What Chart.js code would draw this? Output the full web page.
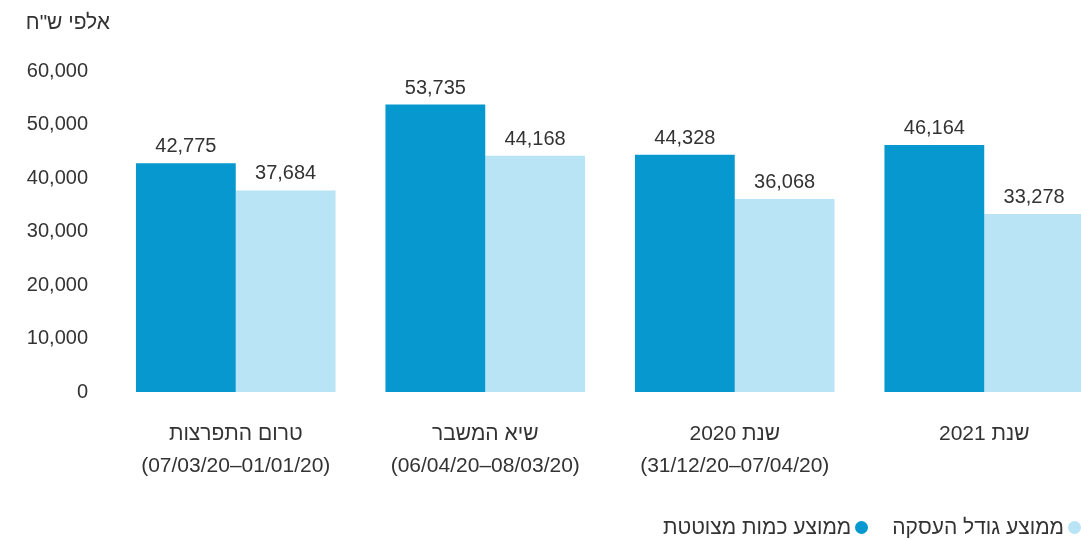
<!DOCTYPE html>
<html lang="he">
<head>
<meta charset="utf-8">
<title>ממוצע כמות מצוטטת וגודל עסקה</title>
<script src="https://cdn.jsdelivr.net/npm/chart.js@4.4.1/dist/chart.umd.min.js"></script>
<style>
  html, body { margin: 0; padding: 0; background: #fff; overflow: hidden; }
  #wrap { position: relative; width: 1081px; height: 540px; overflow: hidden; }
  #chart { position: absolute; left: 0; top: 0; }
  #legend {
    position: absolute; right: 0; top: 515px;
    display: flex; flex-direction: row; gap: 24px;
    font-family: "Liberation Sans", sans-serif; font-size: 21px; color: #333;
  }
  #legend .item { display: flex; align-items: center; gap: 4px; white-space: nowrap; }
  #legend .dot { width: 13px; height: 13px; border-radius: 50%; display: inline-block; }
</style>
</head>
<body>
<div id="wrap">
  <canvas id="chart" dir="rtl" width="1109" height="540"></canvas>
  <div id="legend" dir="rtl"></div>
</div>
<script>
// periods (x axis), two lines each
const periods = [
  ['טרום התפרצות', '(01/01/20–07/03/20)'],
  ['שיא המשבר', '(08/03/20–06/04/20)'],
  ['שנת 2020', '(07/04/20–31/12/20)'],
  ['שנת 2021']
];
// thousands of NIS
const quotedQty = [42775, 53735, 44328, 46164];
const dealSize = [37684, 44168, 36068, 33278];
const yTicks = [0, 10000, 20000, 30000, 40000, 50000, 60000];
const unitLabel = 'אלפי ש"ח';

const fontFamily = '"Liberation Sans", sans-serif';
const textColor = '#333333';

// value above each bar
const barValues = {
  id: 'barValues',
  afterDatasetsDraw(chart) {
    const ctx = chart.ctx;
    ctx.save();
    ctx.font = '20px ' + fontFamily;
    ctx.fillStyle = textColor;
    ctx.textAlign = 'center';
    ctx.textBaseline = 'alphabetic';
    chart.data.datasets.forEach(function (ds, i) {
      chart.getDatasetMeta(i).data.forEach(function (bar, j) {
        ctx.fillText(ds.data[j].toLocaleString('en-US'), bar.x, bar.y - 11);
      });
    });
    ctx.restore();
  }
};

// unit caption above the y axis
const unitCaption = {
  id: 'unitCaption',
  afterDraw(chart) {
    const ctx = chart.ctx;
    ctx.save();
    ctx.font = '21px ' + fontFamily;
    ctx.fillStyle = textColor;
    ctx.textAlign = 'right';
    ctx.textBaseline = 'alphabetic';
    ctx.fillText(unitLabel, 110, 29);
    ctx.restore();
  }
};

const ctx = document.getElementById('chart').getContext('2d');
const chart = new Chart(ctx, {
  type: 'bar',
  data: {
    labels: periods,
    datasets: [
      {
        label: 'ממוצע כמות מצוטטת',
        data: quotedQty,
        backgroundColor: '#0698CE',
        borderWidth: 0
      },
      {
        label: 'ממוצע גודל העסקה',
        data: dealSize,
        backgroundColor: '#B9E4F6',
        borderWidth: 0
      }
    ]
  },
  options: {
    responsive: false,
    animation: false,
    layout: { padding: { top: 71, bottom: 50, left: 0, right: 0 } },
    plugins: {
      legend: { display: false },
      tooltip: { enabled: false }
    },
    datasets: {
      bar: { categoryPercentage: 0.8, barPercentage: 1.0 }
    },
    scales: {
      x: {
        grid: { display: false, drawTicks: false },
        border: { display: false },
        ticks: {
          color: textColor,
          font: { family: fontFamily, size: 21, lineHeight: 1.52 },
          padding: 26,
          maxRotation: 0
        },
        afterFit(scale) { scale.height = 98; }
      },
      y: {
        min: 0,
        max: 60000,
        grid: { display: false, drawTicks: false },
        border: { display: false },
        afterBuildTicks(scale) {
          scale.ticks = yTicks.map(function (v) { return { value: v }; });
        },
        ticks: {
          color: textColor,
          font: { family: fontFamily, size: 20 },
          padding: 23,
          callback: function (v) { return v.toLocaleString('en-US'); }
        },
        afterFit(scale) { scale.width = 111; }
      }
    }
  },
  plugins: [barValues, unitCaption]
});

// legend built from the datasets, first item on the right
const legendEl = document.getElementById('legend');
chart.data.datasets.slice().reverse().forEach(function (ds) {
  const item = document.createElement('span');
  item.className = 'item';
  const dot = document.createElement('span');
  dot.className = 'dot';
  dot.style.background = ds.backgroundColor;
  const txt = document.createElement('span');
  txt.textContent = ds.label;
  item.appendChild(dot);
  item.appendChild(txt);
  legendEl.appendChild(item);
});
</script>
</body>
</html>
